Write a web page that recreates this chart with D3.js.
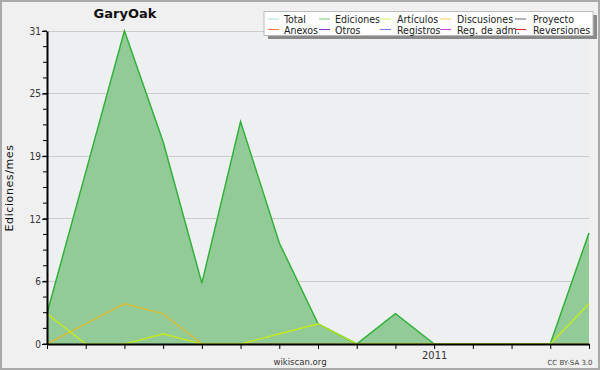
<!DOCTYPE html>
<html><head><meta charset="utf-8">
<script src="https://cdn.jsdelivr.net/npm/d3@7"></script>
<style>body{margin:0;background:#f0f0f0;}svg{display:block;font-family:"DejaVu Sans",sans-serif;}</style>
</head><body><svg id="c" width="600" height="370"></svg>
<script>
const months = ["2010-03","2010-04","2010-05","2010-06","2010-07","2010-08","2010-09","2010-10","2010-11","2010-12","2011-01","2011-02","2011-03","2011-04","2011-05"];
const total = [3,17,31,20,6,22,10,2,0,3,0,0,0,0,11];
const ediciones = [3,17,31,20,6,22,10,2,0,3,0,0,0,0,11];
const articulos = [3,0,0,1,0,0,1,2,0,0,0,0,0,0,4];
const discusiones = [0,2,4,3,0,0,0,0,0,0,0,0,0,0,0];
const yMax = 31;
const yTickValues = [0,6.2,12.4,18.6,24.8,31];
const xTickLabels = {"2011-01":"2011"};
const legendItems = [
  ["Total","#aadede"],["Ediciones","#77c877"],["Artículos","#c8ee55"],["Discusiones","#ffcc55"],["Proyecto","#666666"],
  ["Anexos","#ff7744"],["Otros","#8833cc"],["Registros","#7777ee"],["Reg. de adm.","#cc44dd"],["Reversiones","#ee2222"]
];

const svg = d3.select("#c");
const L=47, R=589, T=31, B=344;
svg.append("rect").attr("x",1).attr("y",1).attr("width",598).attr("height",368).attr("fill","#f0f0f0").attr("stroke","#aaaaaa").attr("stroke-width",2);
svg.append("rect").attr("x",L).attr("y",T).attr("width",R-L).attr("height",B-T).attr("fill","#eeeff1");

const x = d3.scalePoint().domain(months).range([L,R]);
const y = d3.scaleLinear().domain([0,yMax]).range([B,T]);

svg.append("g").selectAll("line").data(yTickValues.slice(1)).join("line")
  .attr("x1",L).attr("x2",R).attr("y1",d=>y(d)).attr("y2",d=>y(d))
  .attr("stroke","#cccccc").attr("stroke-width",1).attr("shape-rendering","crispEdges");

const area = d3.area().x((d,i)=>x(months[i])).y0(B).y1(d=>y(d));
const line = d3.line().x((d,i)=>x(months[i])).y(d=>y(d));
svg.append("path").datum(ediciones).attr("d",area).attr("fill","#93cb98");
svg.append("path").datum(total).attr("d",line).attr("fill","none").attr("stroke","#aadede").attr("stroke-width",1.5);
svg.append("path").datum(ediciones).attr("d",line).attr("fill","none").attr("stroke","#33b033").attr("stroke-width",1.5);
svg.append("path").datum(discusiones).attr("d",line).attr("fill","none").attr("stroke","#e8b820").attr("stroke-width",1.2);
svg.append("path").datum(articulos).attr("d",line).attr("fill","none").attr("stroke","#ccf000").attr("stroke-width",1.2);

const xAxis = d3.axisBottom(x).tickSizeInner(5).tickSizeOuter(0).tickFormat(d=>xTickLabels[d]||"");
const gx = svg.append("g").attr("transform",`translate(0,${B})`).call(xAxis);
gx.select(".domain").attr("stroke","#000").attr("stroke-width",2);
gx.selectAll(".tick line").attr("stroke","#000");
gx.selectAll("text").attr("font-size",11).attr("fill","#333").attr("dy","0.6em").attr("font-family","DejaVu Sans Condensed, DejaVu Sans");

const minor = d3.range(0,yMax+0.001,yMax/20);
svg.append("g").selectAll("line").data(minor).join("line")
  .attr("x1",L-4).attr("x2",L).attr("y1",d=>y(d)).attr("y2",d=>y(d)).attr("stroke","#000").attr("stroke-width",1);
const yAxis = d3.axisLeft(y).tickValues(yTickValues).tickSizeInner(5).tickSizeOuter(0).tickFormat(d=>Math.round(d));
const gy = svg.append("g").attr("transform",`translate(${L},0)`).call(yAxis);
gy.select(".domain").attr("stroke","#000").attr("stroke-width",2);
gy.selectAll(".tick line").attr("stroke","#000");
gy.selectAll("text").attr("font-size",10).attr("fill","#333").attr("x",-6).attr("font-family","DejaVu Sans Condensed, DejaVu Sans");

svg.append("text").attr("x",125).attr("y",18).attr("text-anchor","middle").attr("font-weight","bold").attr("font-size",13).attr("fill","#111").text("GaryOak");
svg.append("text").attr("transform","translate(13,188) rotate(-90)").attr("text-anchor","middle").attr("font-size",11).attr("letter-spacing",0.6).attr("fill","#111").text("Ediciones/mes");
svg.append("text").attr("x",300).attr("y",365).attr("text-anchor","middle").attr("font-size",9.5).attr("fill","#333").attr("font-family","DejaVu Sans Condensed, DejaVu Sans").text("wikiscan.org");
svg.append("text").attr("x",570).attr("y",365).attr("text-anchor","middle").attr("font-size",7).attr("fill","#444").text("CC BY-SA 3.0");

const lg = svg.append("g");
lg.append("rect").attr("x",268).attr("y",15).attr("width",329).attr("height",24).attr("fill","#8a8a8a");
lg.append("rect").attr("x",264).attr("y",11.5).attr("width",329).attr("height",24).attr("fill","#fff").attr("stroke","#bbb");
const colX = [268,319,380,440,515];
const textX = [284,335,397,457,533];
legendItems.forEach((d,i)=>{
  const c=i%5, r=Math.floor(i/5);
  const yy = 19 + r*10.5;
  lg.append("line").attr("x1",colX[c]).attr("x2",colX[c]+11).attr("y1",yy).attr("y2",yy).attr("stroke",d[1]).attr("stroke-width",1);
  lg.append("text").attr("x",textX[c]).attr("y",yy+4).attr("font-size",10.5).attr("font-family","DejaVu Sans Condensed, DejaVu Sans").attr("fill","#222").text(d[0]);
});
</script></body></html>
